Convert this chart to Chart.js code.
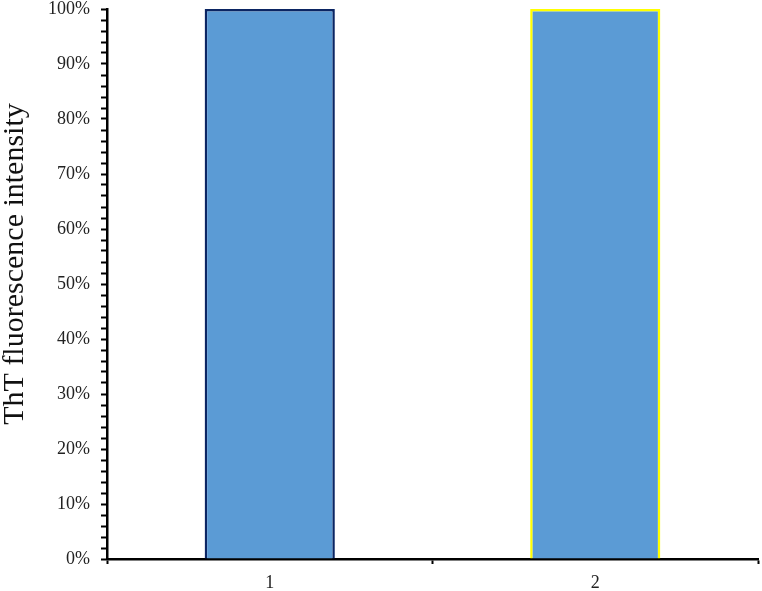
<!DOCTYPE html>
<html>
<head>
<meta charset="utf-8">
<script src="https://cdn.jsdelivr.net/npm/chart.js@4"></script>
<style>
  body { margin: 0; background: #fff; }
  #wrap { width: 762px; height: 591px; }
</style>
</head>
<body>
<div id="wrap"><canvas id="chart-bars" width="762" height="591"></canvas></div>
<script>
const categories = ['1', '2'];
const intensity = [1.0, 1.0];
const edgeColors = ['#0B2563', '#FFFF00'];
const yTitle = 'ThT fluorescence intensity';

const chartBars = document.getElementById('chart-bars');

// axis title sits a bit above the middle of the axis, so draw it by hand
const yTitlePlugin = {
    id: 'yTitle',
    afterDraw: (chart) => {
        const ctx = chart.ctx;
        ctx.save();
        ctx.translate(15, 264);
        ctx.rotate(-Math.PI / 2);
        ctx.textAlign = 'center';
        ctx.textBaseline = 'middle';
        ctx.fillStyle = '#111';
        ctx.font = '30px "Liberation Serif"';
        ctx.fillText(yTitle, 0, 0);
        ctx.restore();
    }
};

const config = {
    type: 'bar',
    data: {
        labels: categories,
        datasets: [{
            data: intensity,
            backgroundColor: '#5B9BD5',
            borderColor: edgeColors,
            borderWidth: 2.5,
            barPercentage: 0.4,
            categoryPercentage: 1,
            clip: 6
        }]
    },
    options: {
        responsive: false,
        animation: false,
        layout: { padding: { top: 9, right: 4, bottom: 0, left: 0 } },
        plugins: {
            legend: { display: false },
            tooltip: { enabled: false }
        },
        scales: {
            x: {
                offset: true,
                grid: {
                    offset: true,
                    drawOnChartArea: false,
                    drawTicks: true,
                    tickLength: 5,
                    tickWidth: 2,
                    tickColor: '#000'
                },
                border: { display: true, color: '#000', width: 2.5 },
                ticks: {
                    padding: 8,
                    color: '#222',
                    font: { family: 'Liberation Serif', size: 18 }
                },
                afterFit: (s) => {
                    s.height = 32;
                    s.paddingLeft = 0;
                    s.paddingRight = 0;
                }
            },
            y: {
                min: 0,
                max: 1,
                grid: {
                    drawOnChartArea: false,
                    drawTicks: true,
                    tickLength: 6,
                    tickWidth: 2,
                    tickColor: '#000'
                },
                border: { display: true, color: '#000', width: 2.5 },
                ticks: {
                    stepSize: 0.02,
                    autoSkip: false,
                    padding: 11,
                    color: '#222',
                    font: { family: 'Liberation Serif', size: 18 },
                    callback: (v) => {
                        const p = Math.round(v * 100);
                        return p % 10 === 0 ? p + '%' : '';
                    }
                },
                afterFit: (s) => {
                    s.width = 107;
                    s.paddingTop = 0;
                    s.paddingBottom = 0;
                }
            }
        }
    },
    plugins: [yTitlePlugin]
};

new Chart(chartBars, config);
</script>
</body>
</html>
